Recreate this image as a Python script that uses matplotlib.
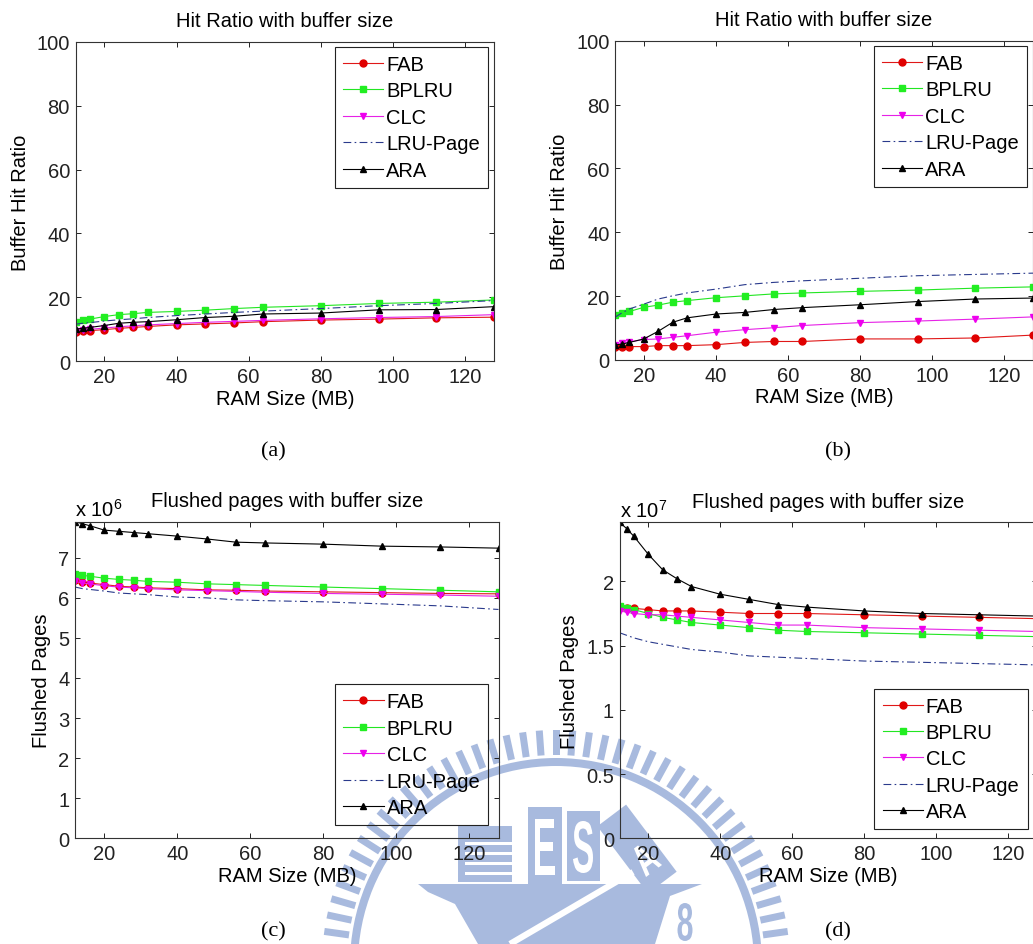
import matplotlib

matplotlib.use("Agg")
import matplotlib.pyplot as plt
import numpy as np
from matplotlib.font_manager import FontProperties
from matplotlib.patches import PathPatch, Polygon, Rectangle, Wedge
from matplotlib.textpath import TextPath
from matplotlib.transforms import Affine2D

W, H = 1033, 945

ram_mb = [12, 14, 16, 20, 24, 28, 32, 40, 48, 56, 64, 80, 96, 112, 128]
series_names = ["FAB", "BPLRU", "CLC", "LRU-Page", "ARA"]

# (a) hit ratio, first trace
hit1_fab = [9.1, 9.4, 9.6, 9.9, 10.3, 10.6, 10.9, 11.4, 11.7, 12.0, 12.4, 12.9, 13.2, 13.6, 13.8]
hit1_bplru = [12.4, 12.9, 13.2, 14.0, 14.6, 14.9, 15.3, 15.6, 16.0, 16.5, 16.9, 17.4, 18.1, 18.5, 19.2]
hit1_clc = [9.5, 9.8, 10.0, 10.4, 10.8, 11.1, 11.4, 11.8, 12.2, 12.5, 12.8, 13.3, 13.7, 14.0, 14.6]
hit1_lru = [11.6, 11.9, 12.1, 12.6, 13.0, 13.3, 13.7, 14.3, 14.8, 15.3, 15.7, 16.5, 17.4, 18.1, 19.0]
hit1_ara = [10.1, 10.3, 10.6, 11.2, 11.9, 12.2, 12.4, 13.0, 13.7, 14.1, 14.8, 15.1, 16.1, 16.2, 17.1]

# (b) hit ratio, second trace
hit2_fab = [4.2, 4.2, 4.2, 4.2, 4.5, 4.5, 4.5, 4.8, 5.5, 5.8, 5.8, 6.6, 6.6, 6.9, 7.8]
hit2_bplru = [14.1, 14.6, 15.2, 16.5, 17.2, 18.1, 18.6, 19.5, 20.1, 20.7, 21.0, 21.5, 21.9, 22.5, 22.9]
hit2_clc = [4.8, 5.2, 5.7, 6.4, 6.6, 7.1, 7.6, 8.7, 9.5, 10.1, 10.8, 11.7, 12.2, 12.8, 13.5]
hit2_lru = [13.4, 14.8, 16.0, 17.5, 19.1, 20.1, 21.0, 22.2, 23.6, 24.3, 24.8, 25.6, 26.4, 26.8, 27.2]
hit2_ara = [4.7, 5.0, 5.5, 6.6, 9.0, 11.8, 13.2, 14.4, 14.9, 15.8, 16.4, 17.3, 18.3, 19.1, 19.4]

# (c) flushed pages, x 10^6
flush1_fab = [6.44, 6.39, 6.37, 6.33, 6.29, 6.27, 6.25, 6.23, 6.20, 6.19, 6.17, 6.15, 6.13, 6.11, 6.10]
flush1_bplru = [6.60, 6.56, 6.54, 6.49, 6.46, 6.44, 6.41, 6.39, 6.35, 6.33, 6.31, 6.27, 6.23, 6.19, 6.15]
flush1_clc = [6.41, 6.37, 6.35, 6.30, 6.27, 6.25, 6.23, 6.20, 6.18, 6.16, 6.14, 6.11, 6.09, 6.07, 6.04]
flush1_lru = [6.27, 6.23, 6.21, 6.17, 6.12, 6.10, 6.08, 6.02, 6.00, 5.95, 5.93, 5.90, 5.85, 5.80, 5.71]
flush1_ara = [7.90, 7.85, 7.80, 7.69, 7.66, 7.63, 7.60, 7.54, 7.47, 7.39, 7.37, 7.34, 7.29, 7.27, 7.24]

# (d) flushed pages, x 10^7
flush2_fab = [1.80, 1.79, 1.79, 1.78, 1.77, 1.77, 1.77, 1.76, 1.75, 1.75, 1.75, 1.74, 1.73, 1.72, 1.71]
flush2_bplru = [1.81, 1.79, 1.78, 1.75, 1.72, 1.70, 1.68, 1.66, 1.64, 1.62, 1.61, 1.60, 1.59, 1.58, 1.57]
flush2_clc = [1.77, 1.76, 1.75, 1.74, 1.74, 1.73, 1.72, 1.70, 1.68, 1.66, 1.66, 1.64, 1.63, 1.62, 1.61]
flush2_lru = [1.60, 1.58, 1.56, 1.53, 1.51, 1.49, 1.47, 1.45, 1.42, 1.41, 1.40, 1.38, 1.37, 1.36, 1.35]
flush2_ara = [2.46, 2.41, 2.35, 2.21, 2.09, 2.02, 1.96, 1.90, 1.86, 1.82, 1.80, 1.77, 1.75, 1.74, 1.73]

hit_ticks = [0, 20, 40, 60, 80, 100]
flush1_ticks = [0, 1, 2, 3, 4, 5, 6, 7]
flush2_ticks = [0, 0.5, 1, 1.5, 2]
flush2_labels = ["0", "0.5", "1", "1.5", "2"]
x_ticks = [20, 40, 60, 80, 100, 120]

STYLE = {
    "FAB": dict(color="#e01818", marker="o", markersize=5, markerfacecolor="#e00000", markeredgecolor="#e00000"),
    "BPLRU": dict(color="#22e622", marker="s", markersize=5, markerfacecolor="#22ee22", markeredgecolor="#22ee22"),
    "CLC": dict(color="#e622e6", marker="v", markersize=5, markerfacecolor="#ee00ee", markeredgecolor="#ee00ee"),
    "LRU-Page": dict(color="#2a3a8c", linestyle=(0, (7, 3, 1.5, 3))),
    "ARA": dict(color="black", marker="^", markersize=5),
}

FS = 14.5
plt.rcParams["font.family"] = ["Liberation Sans", "DejaVu Sans"]
plt.rcParams["mathtext.fontset"] = "custom"
plt.rcParams["mathtext.rm"] = "Liberation Sans"

fig = plt.figure(figsize=(W / 100, H / 100), dpi=100)


def px_rect(left, top, right, bottom):
    return [left / W, 1 - bottom / H, (right - left) / W, (bottom - top) / H]


def glyph(ax, ch, x, y, w, h, rot=0, color="white"):
    tp = TextPath((0, 0), ch, size=1, prop=FontProperties(family="Liberation Sans", weight="bold"))
    ext = tp.get_extents()
    tr = (
        Affine2D()
        .translate(-ext.x0 - ext.width / 2, -ext.y0 - ext.height / 2)
        .scale(w / ext.width, -h / ext.height)
        .rotate_deg(rot)
        .translate(x, y)
    )
    ax.add_patch(PathPatch(tr.transform_path(tp), facecolor=color, edgecolor="none"))


# faint logo watermark behind the lower panels
wm = fig.add_axes([0, 0, 1, 1], zorder=0)
wm.set_xlim(0, W)
wm.set_ylim(H, 0)
wm.axis("off")
WM = "#a8bade"
cx, cy = 556, 965
for ang in np.arange(90 - 4.1 * 24, 90 + 4.1 * 25, 4.1):
    a = np.radians(ang)
    u = np.array([np.cos(a), -np.sin(a)])
    v = np.array([np.sin(a), np.cos(a)])
    c = np.array([cx, cy])
    pts = [c + 209 * u - 3.5 * v, c + 234 * u - 3.5 * v, c + 234 * u + 3.5 * v, c + 209 * u + 3.5 * v]
    wm.add_patch(Polygon(pts, closed=True, facecolor=WM, edgecolor="none"))
wm.add_patch(Wedge((cx, cy), 206, 0, 360, width=8, facecolor=WM, edgecolor="none"))
wm.add_patch(Polygon([(418, 885), (702, 885), (670, 897), (655, 945), (478, 945), (455, 905), (428, 893)],
                     closed=True, facecolor=WM, edgecolor="none"))
wm.plot([510, 633], [945, 873], color="white", lw=4.5, solid_capstyle="butt")
wm.add_patch(Rectangle((458, 827), 54, 56, facecolor=WM, edgecolor="none"))
for yy in (843, 853, 863, 873):
    wm.add_patch(Rectangle((465, yy), 47, 3, facecolor="white", edgecolor="none"))
wm.add_patch(Rectangle((528, 808), 34, 77, facecolor=WM, edgecolor="none"))
glyph(wm, "E", 545, 848, 20, 56)
wm.add_patch(Rectangle((567, 812), 33, 70, facecolor=WM, edgecolor="none"))
glyph(wm, "S", 583, 848, 20, 52)
diamond = Rectangle((-18, -42), 36, 84, facecolor=WM, edgecolor="none",
                    transform=Affine2D().rotate_deg(-37).translate(637, 850) + wm.transData)
wm.add_patch(diamond)
glyph(wm, "A", 645, 860, 20, 30, rot=-37)
glyph(wm, "8", 685, 923, 15, 38, color=WM)


def draw_panel(rect, values, ylim, yticks, ylabels, title, ylabel, loc, anchor, scale=None):
    ax = fig.add_axes(px_rect(*rect), zorder=2)
    ax.patch.set_facecolor("none")
    for name, vals in zip(series_names, values):
        ax.plot(ram_mb, vals, lw=0.8, label=name, **STYLE[name])
    ax.set_xlim(12, 128)
    ax.set_ylim(*ylim)
    ax.set_xticks(x_ticks)
    ax.set_yticks(yticks)
    ax.set_yticklabels(ylabels)
    ax.tick_params(direction="in", top=True, right=True, length=3.5, width=0.7,
                   labelsize=FS, pad=4, colors="#222222")
    for sp in ax.spines.values():
        sp.set_linewidth(0.8)
        sp.set_color("#333333")
    ax.set_title(title, fontsize=FS, pad=11)
    ax.set_xlabel("RAM Size (MB)", fontsize=FS, labelpad=2)
    ax.set_ylabel(ylabel, fontsize=FS, labelpad=5)
    leg = ax.legend(loc=loc, bbox_to_anchor=anchor, borderaxespad=0, fontsize=FS,
                    fancybox=False, edgecolor="#222222", facecolor="none", framealpha=1,
                    handlelength=2.0, handletextpad=0.15, labelspacing=0.37, borderpad=0.4,
                    numpoints=1)
    leg.get_frame().set_linewidth(0.8)
    if scale:
        ax.annotate(scale, xy=(0, 1), xycoords="axes fraction", xytext=(0, 4),
                    textcoords="offset points", ha="left", va="baseline", fontsize=FS)
    return ax


draw_panel((75.5, 42.7, 494, 362.3),
           [hit1_fab, hit1_bplru, hit1_clc, hit1_lru, hit1_ara],
           (0, 100), hit_ticks, [str(t) for t in hit_ticks],
           "Hit Ratio with buffer size", "Buffer Hit Ratio", "upper right", (0.9856, 0.984))
draw_panel((615, 41.7, 1033, 361),
           [hit2_fab, hit2_bplru, hit2_clc, hit2_lru, hit2_ara],
           (0, 100), hit_ticks, [str(t) for t in hit_ticks],
           "Hit Ratio with buffer size", "Buffer Hit Ratio", "upper right", (0.9857, 0.984))
draw_panel((75.1, 522.7, 498.5, 839.3),
           [flush1_fab, flush1_bplru, flush1_clc, flush1_lru, flush1_ara],
           (0, max(flush1_ara)), flush1_ticks, [str(t) for t in flush1_ticks],
           "Flushed pages with buffer size", "Flushed Pages", "lower right", (0.976, 0.041),
           scale=r"x $\mathregular{10^{6}}$")
draw_panel((619.6, 523.3, 1036.6, 839.3),
           [flush2_fab, flush2_bplru, flush2_clc, flush2_lru, flush2_ara],
           (0, max(flush2_ara)), flush2_ticks, flush2_labels,
           "Flushed pages with buffer size", "Flushed Pages", "lower right", (0.9785, 0.028),
           scale=r"x $\mathregular{10^{7}}$")

for label, x, y in [("(a)", 273, 452), ("(b)", 838, 452), ("(c)", 273, 932), ("(d)", 838, 932)]:
    fig.text(x / W, 1 - y / H, label, ha="center", va="center", fontsize=16,
             family=["Liberation Serif", "DejaVu Serif"])

fig.savefig("out.png", dpi=100)
